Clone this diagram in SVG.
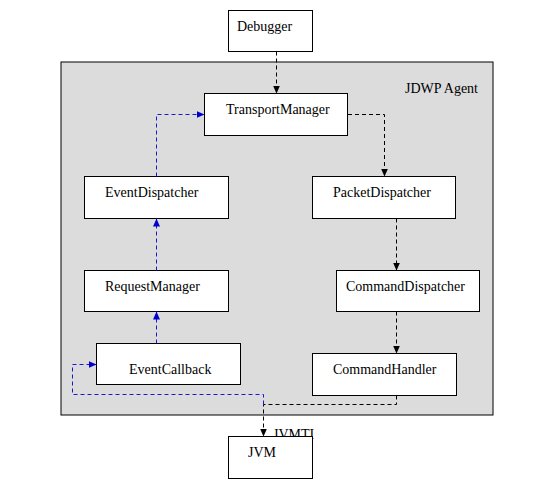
<svg xmlns="http://www.w3.org/2000/svg" width="556" height="490" viewBox="0 0 556 490">
<style>
.box{fill:#fff;stroke:#000;stroke-width:1}
.t{font-family:"Liberation Serif","Times New Roman",serif;font-size:14px;fill:#000}
.k{fill:none;stroke:#000;stroke-width:1;stroke-dasharray:4,3}
.b{fill:none;stroke:#1a1acc;stroke-width:1;stroke-dasharray:4,3}
</style>
<defs>
<marker id="ak" markerWidth="8" markerHeight="7" refX="8" refY="3.5" orient="auto" markerUnits="userSpaceOnUse"><path d="M0,0 L8,3.5 L0,7 z" fill="#000"/></marker>
<marker id="ab" markerWidth="8" markerHeight="7" refX="8" refY="3.5" orient="auto" markerUnits="userSpaceOnUse"><path d="M0,0 L8,3.5 L0,7 z" fill="#0000cc"/></marker>
</defs>
<rect width="556" height="490" fill="#fff"/>
<g id="agent"><rect x="61" y="62" width="432" height="353" fill="#dcdcdc" stroke="#000"/><text class="t" x="405" y="93">JDWP Agent</text></g>
<g id="jvmti-label"><text class="t" x="273" y="439">JVMTI</text></g>
<g id="debugger"><rect class="box" x="228.5" y="10.5" width="84" height="41"/><text class="t" x="237" y="31">Debugger</text></g>
<g id="transportmanager"><rect class="box" x="204.5" y="93.5" width="143" height="42"/><text class="t" x="226" y="114">TransportManager</text></g>
<g id="eventdispatcher"><rect class="box" x="84.5" y="176.5" width="144" height="42"/><text class="t" x="105" y="197">EventDispatcher</text></g>
<g id="packetdispatcher"><rect class="box" x="312.5" y="176.5" width="143" height="42"/><text class="t" x="333" y="197">PacketDispatcher</text></g>
<g id="requestmanager"><rect class="box" x="84.5" y="270.5" width="144" height="41"/><text class="t" x="105" y="291">RequestManager</text></g>
<g id="commanddispatcher"><rect class="box" x="336.5" y="270.5" width="143" height="41"/><text class="t" x="346" y="291">CommandDispatcher</text></g>
<g id="eventcallback"><rect class="box" x="96.5" y="343.5" width="144" height="41"/><text class="t" x="129" y="374">EventCallback</text></g>
<g id="commandhandler"><rect class="box" x="312.5" y="353.5" width="144" height="42"/><text class="t" x="333" y="374">CommandHandler</text></g>
<g id="jvm"><rect class="box" x="228.5" y="436.5" width="84" height="42"/><text class="t" x="248" y="457">JVM</text></g>
<g id="connectors">
<path class="k" d="M276.5,51.5 V93.5" marker-end="url(#ak)"/>
<path class="k" d="M348,114.5 H384.5 V176.5" marker-end="url(#ak)"/>
<path class="k" d="M396.5,218.5 V270.5" marker-end="url(#ak)"/>
<path class="k" d="M396.5,311.5 V353.5" marker-end="url(#ak)"/>
<path class="k" d="M396.5,395.5 V404.5 H263.5 V436.5" marker-end="url(#ak)"/>
<path class="b" d="M156.5,176.5 V114.5 H204.5" marker-end="url(#ab)"/>
<path class="b" d="M156.5,270.5 V218.5" marker-end="url(#ab)"/>
<path class="b" d="M156.5,343.5 V311.5" marker-end="url(#ab)"/>
<path class="b" d="M263.5,404.5 V394.5 H72.5 V364.5 H96.5" marker-end="url(#ab)"/>
</g>
</svg>
